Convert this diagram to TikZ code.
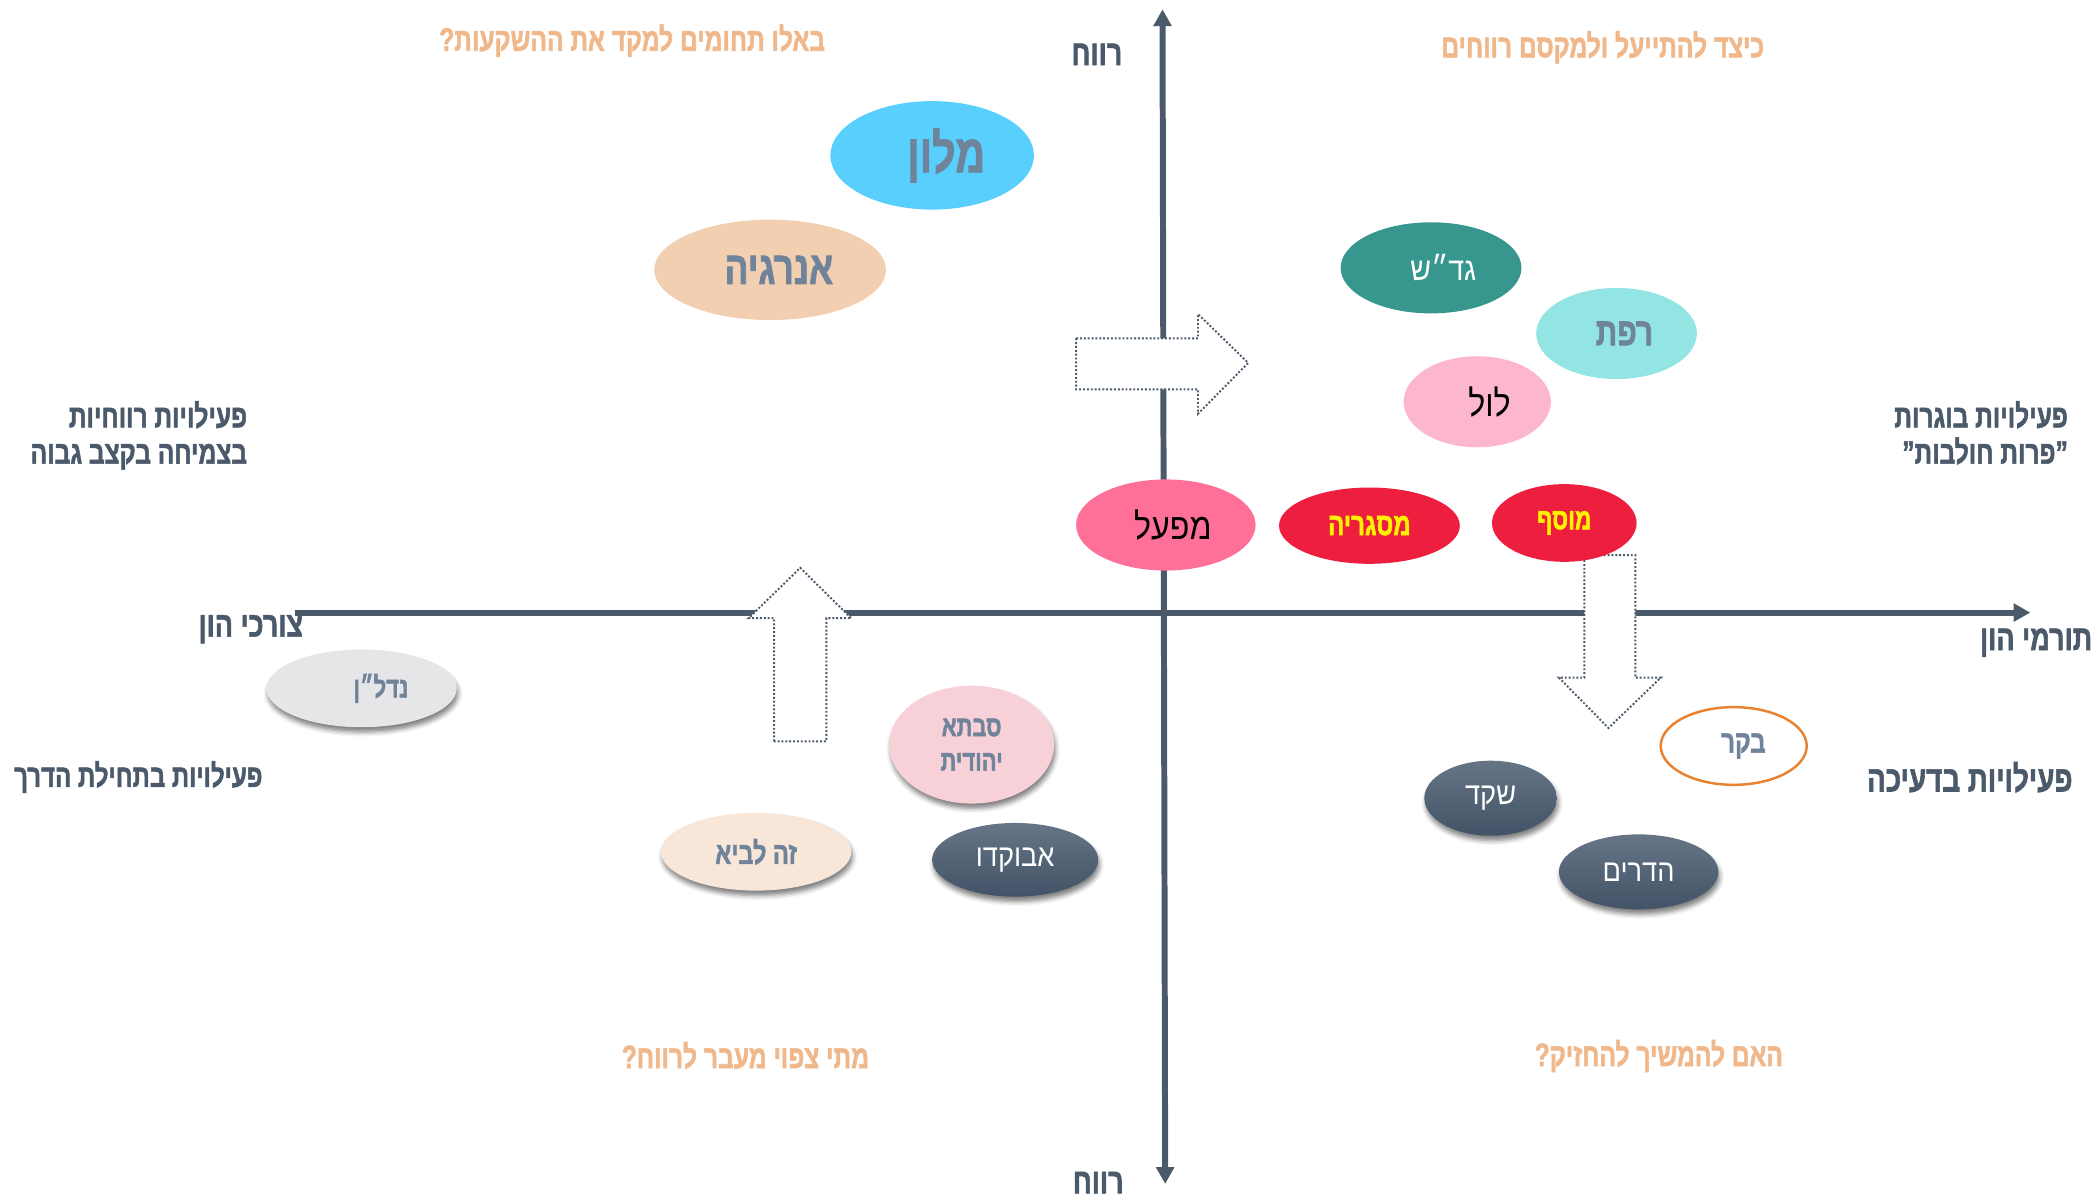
\documentclass[tikz,border=0pt]{standalone}
\usepackage{fontspec}
\usetikzlibrary{arrows.meta, shapes.geometric, shadows, shadows.blur}
\newfontfamily\hebfont[Script=Hebrew, FakeStretch=0.88]{Liberation Sans}
\newfontfamily\hebbold[Script=Hebrew, FakeStretch=0.76, FakeBold=1.6]{Liberation Sans Bold}
\TeXXeTstate=1
\newcommand{\heb}[1]{\beginR #1\endR}
\definecolor{slate}{RGB}{74,90,107}
\definecolor{slatetext}{RGB}{111,132,154}
\definecolor{peachq}{RGB}{240,184,138}
\definecolor{skyblue}{RGB}{88,207,253}
\definecolor{peach}{RGB}{242,207,177}
\definecolor{darkteal}{RGB}{55,151,143}
\definecolor{aqua}{RGB}{147,229,227}
\definecolor{softpink}{RGB}{253,183,205}
\definecolor{hotpink}{RGB}{255,112,153}
\definecolor{brightred}{RGB}{237,30,62}
\definecolor{brightyellow}{RGB}{255,242,0}
\definecolor{lightgrey}{RGB}{230,230,232}
\definecolor{palepink}{RGB}{248,208,216}
\definecolor{cream}{RGB}{248,230,216}
\definecolor{darktop}{RGB}{102,117,134}
\definecolor{darkbot}{RGB}{66,83,103}
\definecolor{cowline}{RGB}{232,130,47}

\begin{document}
\begin{tikzpicture}[
    x=1.3393cm, y=-1.3393cm,
    axis/.style={line width=1.7pt,draw=slate,>={Triangle[length=4.8pt,width=5pt]}},
    bigarrow/.style={draw=slate,fill=white,line width=0.55pt,dash pattern=on 0.55pt off 0.55pt},
    blob/.style={ellipse,inner sep=0pt,align=center},
    shade/.style={blur shadow={shadow xshift=0.4pt,shadow yshift=-1.4pt,shadow blur radius=1.3pt,shadow opacity=50}},
    darkblob/.style={blob,shade,top color=darktop,bottom color=darkbot,text=white,font=\hebfont\fontsize{8.8}{10}\selectfont},
    heading/.style={text=slate,inner sep=0pt,font=\hebbold\fontsize{9.2}{10.3}\selectfont},
    axislabel/.style={heading,anchor=base east,font=\hebbold\fontsize{10.1}{12}\selectfont},
    question/.style={text=peachq,inner sep=0pt,anchor=base,font=\hebbold\fontsize{9.2}{11}\selectfont}
]
    \useasboundingbox (0,0) rectangle (15.68,8.953);

    % Axes
    \coordinate (capneed) at (2.20,4.574);
    \coordinate (capgive) at (15.16,4.574);
    \coordinate (profittop) at (8.68,0.07);
    \coordinate (profitbot) at (8.70,8.84);
    \draw[axis,->] (capneed) -- (capgive);
    \draw[axis,<->] (profitbot) -- (profittop);

    % Dotted block arrows (drawn over the axes)
    \draw[bigarrow] (8.035,2.526) -- (8.945,2.526) -- (8.945,2.345) -- (9.32,2.71) -- (8.945,3.09) -- (8.945,2.907) -- (8.035,2.907) -- cycle;
    \draw[bigarrow] (5.78,5.535) -- (5.78,4.616) -- (5.59,4.616) -- (5.975,4.24) -- (6.356,4.616) -- (6.17,4.616) -- (6.17,5.535) -- cycle;
    \draw[bigarrow] (11.83,4.145) -- (12.21,4.145) -- (12.21,5.06) -- (12.40,5.06) -- (12.01,5.436) -- (11.64,5.06) -- (11.83,5.06) -- cycle;

    % Axis labels
    \node[axislabel] (profitup) at (8.385,0.486) {\heb{רווח}};
    \node[axislabel] (profitdown) at (8.395,8.91) {\heb{רווח}};
    \node[axislabel] (needs) at (2.267,4.754) {\heb{צורכי הון}};
    \node[axislabel] (gives) at (15.626,4.854) {\heb{תורמי הון}};

    % Quadrant titles
    \node[heading,anchor=north east,align=right] (stars) at (1.85,2.99) {\heb{פעילויות רווחיות}\\\heb{בצמיחה בקצב גבוה}};
    \node[heading,anchor=north east,align=right] (cows) at (15.445,2.99) {\heb{פעילויות בוגרות}\\\heb{”פרות חולבות”}};
    \node[heading,anchor=base east,font=\hebbold\fontsize{9}{10}\selectfont] (starters) at (1.965,5.875) {\heb{פעילויות בתחילת הדרך}};
    \node[heading,anchor=base east,font=\hebbold\fontsize{10.4}{12}\selectfont] (fading) at (15.48,5.91) {\heb{פעילויות בדעיכה}};

    % Questions
    \node[question] (qinvest) at (4.72,0.379) {\heb{באלו תחומים למקד את ההשקעות?}};
    \node[question] (qefficient) at (11.967,0.428) {\heb{כיצד להתייעל ולמקסם רווחים}};
    \node[question] (qprofit) at (5.566,7.975) {\heb{מתי צפוי מעבר לרווח?}};
    \node[question] (qkeep) at (12.386,7.96) {\heb{האם להמשיך להחזיק?}};

    % Activities, upper left
    \node[blob,fill=skyblue,text=slatetext,minimum width=2.036cm,minimum height=1.085cm,font=\hebbold\fontsize{15.4}{17}\selectfont] (hotel) at (6.96,1.16) {\hspace*{8pt}\heb{מלון}};
    \node[blob,fill=peach,text=slatetext,minimum width=2.317cm,minimum height=1.004cm,font=\hebbold\fontsize{13.2}{15}\selectfont] (energy) at (5.75,2.015) {\hspace*{5pt}\heb{אנרגיה}};

    % Activities, upper right
    \node[blob,fill=darkteal,text=white,minimum width=1.808cm,minimum height=0.911cm,font=\hebfont\fontsize{9.2}{12}\selectfont] (crops) at (10.685,2.00) {\hspace*{7pt}\heb{גד״ש}};
    \node[blob,fill=aqua,text=slatetext,minimum width=1.607cm,minimum height=0.911cm,font=\hebbold\fontsize{11.2}{13}\selectfont] (dairy) at (12.07,2.49) {\hspace*{4.5pt}\heb{רפת}};
    \node[blob,fill=softpink,text=black,minimum width=1.473cm,minimum height=0.911cm,font=\hebfont\fontsize{10.4}{12}\selectfont] (poultry) at (11.03,3.00) {\hspace*{7pt}\heb{לול}};
    \node[blob,fill=hotpink,text=black,minimum width=1.795cm,minimum height=0.911cm,font=\hebfont\fontsize{10.4}{12}\selectfont] (factory) at (8.705,3.92) {\hspace*{4pt}\heb{מפעל}};
    \node[blob,fill=brightred,text=brightyellow,minimum width=1.808cm,minimum height=0.763cm,font=\hebbold\fontsize{9}{10}\selectfont] (metalshop) at (10.225,3.925) {\heb{מסגריה}};
    \node[blob,fill=brightred,text=brightyellow,minimum width=1.446cm,minimum height=0.777cm,font=\hebbold\fontsize{8.5}{10}\selectfont] (garage) at (11.68,3.905) {\heb{מוסף}};

    % Activities, lower left
    \node[blob,shade,fill=lightgrey,text=slatetext,minimum width=1.902cm,minimum height=0.777cm,font=\hebbold\fontsize{8.2}{10}\selectfont] (realestate) at (2.70,5.14) {\hspace*{11pt}\heb{נדל״ן}};
    \node[blob,shade,fill=palepink,text=slatetext,minimum width=1.647cm,minimum height=1.179cm,font=\hebbold\fontsize{8.2}{9.8}\selectfont] (savta) at (7.255,5.56) {\heb{סבתא}\\\heb{יהודית}};
    \node[blob,shade,fill=cream,text=slatetext,minimum width=1.902cm,minimum height=0.777cm,font=\hebbold\fontsize{8.8}{10}\selectfont] (lavi) at (5.646,6.36) {\heb{זה לביא}};
    \node[darkblob,minimum width=1.661cm,minimum height=0.737cm] (avocado) at (7.58,6.42) {\heb{אבוקדו}};

    % Activities, lower right
    \node[darkblob,minimum width=1.326cm,minimum height=0.75cm] (almond) at (11.13,5.96) {\heb{שקד}};
    \node[darkblob,minimum width=1.594cm,minimum height=0.75cm] (citrus) at (12.235,6.51) {\heb{הדרים}};
    \node[blob,fill=white,draw=cowline,line width=0.7pt,text=slatetext,minimum width=1.46cm,minimum height=0.777cm,font=\hebbold\fontsize{9}{10}\selectfont] (cattle) at (12.945,5.57) {\hspace*{5.5pt}\heb{בקר}};
\end{tikzpicture}
\end{document}
